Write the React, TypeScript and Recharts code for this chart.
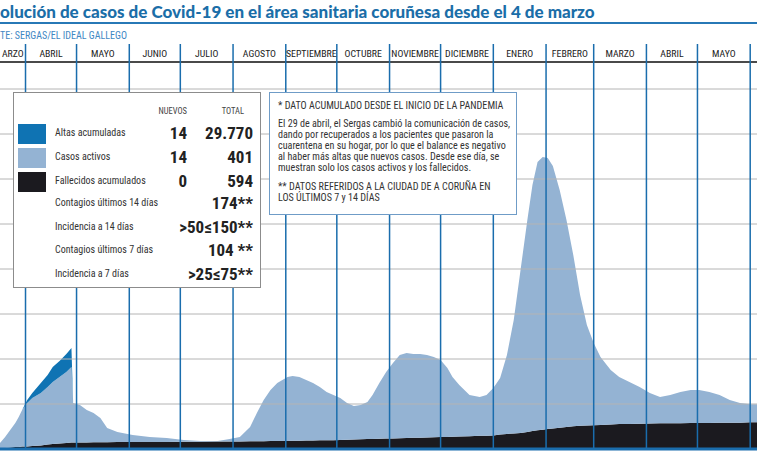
import React from 'react';
import { ComposedChart, Area, XAxis, YAxis, ReferenceLine, Legend } from 'recharts';

// Day index counted from 4 March 2020 (day 0)
const dias = [13,16,19,22,24,26,29,32,37,41,44,48,52,55,56,60,64,68,72,76,82,88,91,101,111,121,131,141,148,154,160,164,168,172,176,182,185,189,193,197,201,205,209,213,217,221,225,229,232,236,240,244,248,252,256,260,264,268,272,276,279,283,289,295,299,303,307,311,315,319,323,326,329,332,335,338,342,346,350,354,358,362,366,372,377,383,389,395,401,407,413,419,424,430,436,442,448,454,458];
const fallecidos = [22,22,33,44,44,56,56,67,78,100,111,122,133,144,144,144,146,150,150,151,153,155,155,157,158,160,162,164,166,168,170,172,174,176,178,180,182,184,188,190,192,195,197,200,205,210,215,220,224,228,232,235,240,244,248,252,256,260,265,268,272,276,284,292,296,300,320,335,345,355,380,400,415,430,444,455,470,490,505,515,522,528,533,544,555,558,562,567,570,572,574,576,578,580,582,584,586,594,594];
const activos = [111,245,389,534,667,811,966,1066,1166,1278,1378,1478,1578,1678,878,834,721,650,539,316,225,178,156,110,86,40,16,14,56,99,319,628,915,1135,1289,1420,1440,1416,1345,1277,1186,1072,1003,933,817,746,763,824,976,1239,1479,1676,1849,1889,1863,1859,1833,1784,1713,1532,1328,1146,916,864,904,1056,1258,1754,2522,3623,4709,5467,5963,6059,6023,5834,5286,4599,3806,2907,2234,1828,1511,1212,1045,931,816,677,586,628,693,735,733,687,618,505,436,401,400];
const altas = [0,0,0,0,0,0,67,111,222,267,333,356,400,422,0,0,0,0,0,0,0,0,0,0,0,0,0,0,0,0,0,0,0,0,0,0,0,0,0,0,0,0,0,0,0,0,0,0,0,0,0,0,0,0,0,0,0,0,0,0,0,0,0,0,0,0,0,0,0,0,0,0,0,0,0,0,0,0,0,0,0,0,0,0,0,0,0,0,0,0,0,0,0,0,0,0,0,0,0];

// Month boundaries (first day of each month) and labels
const inicioMes = [28,58,89,119,150,181,211,242,272,303,334,362,393,423,454];
const meses = ['ARZO','ABRIL','MAYO','JUNIO','JULIO','AGOSTO','SEPTIEMBRE','OCTUBRE','NOVIEMBRE','DICIEMBRE','ENERO','FEBRERO','MARZO','ABRIL','MAYO'];
const dominioX = [13, 458];
const lineasGuia = [1000,2000,3000,4000,5000,6000,7000,8000];

// Legend table
const seriesNombres = ['Altas acumuladas','Casos activos','Fallecidos acumulados'];
const seriesColores = ['#0f73b3','#94b3d3','#1b1a1f'];
const nuevos = ['14','14','0'];
const totales = ['29.770','401','594'];
const extraEtiquetas = ['Contagios últimos 14 días','Incidencia a 14 días','Contagios últimos 7 días','Incidencia a 7 días'];
const extraValores = ['174**','>50≤150**','104 **','>25≤75**'];

const notaLineas = [
  '* DATO ACUMULADO DESDE EL INICIO DE LA PANDEMIA',
  'El 29 de abril, el Sergas cambió la comunicación de casos,',
  'dando por recuperados a los pacientes que pasaron la',
  'cuarentena en su hogar, por lo que el balance es negativo',
  'al haber más altas que nuevos casos. Desde ese día, se',
  'muestran solo los casos activos y los fallecidos.',
  '** DATOS REFERIDOS A LA CIUDAD DE A CORUÑA EN',
  'LOS ÚLTIMOS 7 y 14 DÍAS',
];

const data = dias.map((d, i) => ({ d, fallecidos: fallecidos[i], activos: activos[i], altas: altas[i] }));

const mitadMes = meses.map((_, i) => {
  const a = i === 0 ? dominioX[0] : inicioMes[i - 1];
  const b = inicioMes[i];
  return (a + b) / 2;
});

const NARROW = "'Liberation Sans Narrow', 'Roboto Condensed', 'DejaVu Sans Condensed', 'Arial Narrow', Roboto, sans-serif";
const BLUE = '#1a6dad';

const LegendBox = () => {
  const rowY = [41, 65, 89, 111, 135, 158, 182];
  return (
    <div style={{ position: 'relative', width: 248, height: 196, background: '#fff', border: '1.5px solid #8c8c8c', boxSizing: 'border-box', fontFamily: NARROW, color: '#333' }}>
      <div style={{ position: 'absolute', top: 13, right: 73, fontSize: 8.5, color: '#444' }}>NUEVOS</div>
      <div style={{ position: 'absolute', top: 13, right: 16, fontSize: 8.5, color: '#444' }}>TOTAL</div>
      {seriesNombres.map((n, i) => (
        <React.Fragment key={n}>
          <div style={{ position: 'absolute', left: 4, top: rowY[i] - 10, width: 28, height: 20, background: seriesColores[i] }} />
          <div style={{ position: 'absolute', left: 41, top: rowY[i] - 7, fontSize: 10, whiteSpace: 'nowrap' }}>{n}</div>
          <div style={{ position: 'absolute', right: 73, top: rowY[i] - 11, fontSize: 17, fontWeight: 700, color: '#222' }}>{nuevos[i]}</div>
          <div style={{ position: 'absolute', right: 7, top: rowY[i] - 11, fontSize: 17, fontWeight: 700, color: '#222' }}>{totales[i]}</div>
        </React.Fragment>
      ))}
      {extraEtiquetas.map((n, j) => (
        <React.Fragment key={n}>
          <div style={{ position: 'absolute', left: 41, top: rowY[j + 3] - 7, fontSize: 10, whiteSpace: 'nowrap' }}>{n}</div>
          <div style={{ position: 'absolute', right: 7, top: rowY[j + 3] - 11, fontSize: 17, fontWeight: 700, color: '#222', whiteSpace: 'nowrap' }}>{extraValores[j]}</div>
        </React.Fragment>
      ))}
    </div>
  );
};

export default function App() {
  return (
    <div style={{ position: 'fixed', left: 0, top: 0, width: 757, height: 463, overflow: 'hidden', background: '#fff' }}>
      <div style={{ position: 'absolute', left: 0, top: 0 }}>
        <ComposedChart width={757} height={463} data={data} margin={{ top: 44, right: 0, bottom: 0, left: 0 }}>
          <XAxis dataKey="d" type="number" domain={dominioX} allowDataOverflow ticks={inicioMes} tick={false} tickSize={8} height={14}
            tickLine={{ stroke: BLUE, strokeWidth: 1.5 }} axisLine={{ stroke: BLUE, strokeWidth: 3 }} />
          <YAxis hide type="number" domain={[0, 9000]} allowDataOverflow />
          <Area type="linear" dataKey="fallecidos" stackId="s" stroke="none" fill={seriesColores[2]} fillOpacity={1} isAnimationActive={false} />
          <Area type="linear" dataKey="activos" stackId="s" stroke="none" fill={seriesColores[1]} fillOpacity={1} isAnimationActive={false} />
          <Area type="linear" dataKey="altas" stackId="s" stroke="none" fill={seriesColores[0]} fillOpacity={1} isAnimationActive={false} />
          {lineasGuia.map((v) => (
            <ReferenceLine key={'g' + v} y={v} stroke="#b4b4b4" strokeWidth={1} />
          ))}
          <ReferenceLine y={8600} stroke="#4a4a4a" strokeWidth={2} />
          {inicioMes.map((d) => (
            <ReferenceLine key={'m' + d} x={d} stroke={BLUE} strokeWidth={1.5} />
          ))}
          {meses.map((m, i) => (
            <ReferenceLine key={'l' + i} x={mitadMes[i]} stroke="none"
              label={(p: any) => (
                <text x={p.viewBox.x} y={p.viewBox.y + 13} textAnchor="middle" fontFamily={NARROW} fontSize={9.8} fill="#222">{m}</text>
              )} />
          ))}
          <Legend layout="vertical" align="center" verticalAlign="middle" content={LegendBox}
            wrapperStyle={{ left: 13, top: 92, width: 248, height: 196 }} />
        </ComposedChart>
      </div>
      <div style={{ position: 'absolute', left: 0, top: 2, fontFamily: "Lato, 'Open Sans', sans-serif", fontWeight: 900, fontSize: 17, color: '#1b6ea8', whiteSpace: 'nowrap', lineHeight: '20px' }}>
        olución de casos de Covid-19 en el área sanitaria coruñesa desde el 4 de marzo
      </div>
      <div style={{ position: 'absolute', left: 0, top: 22, width: 757, height: 2, background: '#2778b6' }} />
      <div style={{ position: 'absolute', left: 0, top: 30, fontFamily: NARROW, fontSize: 10, color: '#3f88c4', whiteSpace: 'nowrap' }}>
        TE: SERGAS/EL IDEAL GALLEGO
      </div>
      <div style={{ position: 'absolute', left: 269, top: 92, width: 248, height: 123, background: '#fff', border: '1.5px solid #6f9cc7', boxSizing: 'border-box', fontFamily: NARROW, color: '#333' }}>
        {notaLineas.map((t, i) => {
          const ys = [7, 25, 36, 47, 58, 69, 88, 99];
          return (
            <div key={i} style={{ position: 'absolute', left: 8, top: ys[i], fontSize: 10.1, whiteSpace: 'nowrap', lineHeight: '12px' }}>{t}</div>
          );
        })}
      </div>
    </div>
  );
}
